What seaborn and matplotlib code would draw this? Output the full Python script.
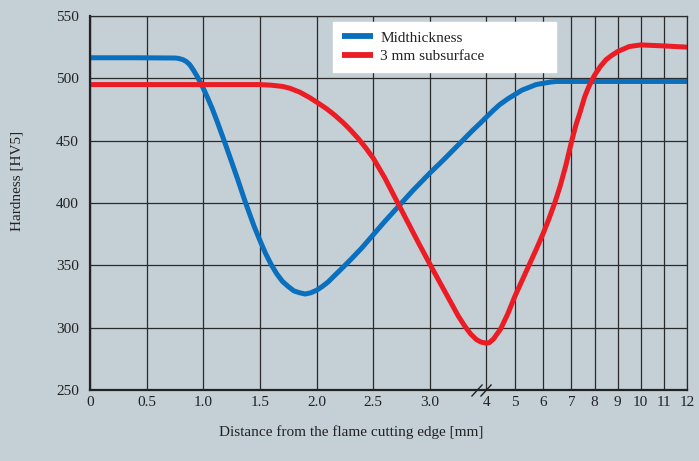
import numpy as np
import pandas as pd
import matplotlib.pyplot as plt
from matplotlib.path import Path
import seaborn as sns

# hardness profiles (distance in mm, hardness in HV5)
mid_mm = [0, 0.4, 0.75, 0.78, 0.82, 0.85, 0.88, 0.91, 0.94, 0.97, 1.0, 1.04, 1.08,
          1.12, 1.16, 1.19, 1.25, 1.3, 1.37, 1.45, 1.5, 1.55, 1.6, 1.65, 1.7, 1.75,
          1.8, 1.85, 1.9, 1.95, 2.0, 2.05, 2.1, 2.15, 2.24, 2.3, 2.4, 2.5, 2.6, 2.71,
          2.85, 3.0, 3.25, 3.5, 3.75, 3.88, 4.0, 4.25, 4.47, 4.75, 5.0, 5.25, 5.53,
          5.75, 6.0, 6.25, 6.47, 7.0, 8, 9, 10, 11, 12]
mid_hv = [516.5, 516.5, 516.3, 516, 515, 513.5, 511, 507, 502.5, 497.5, 492, 484, 475.5,
          466, 456, 448.5, 433, 420, 401, 381, 370, 359.5, 350.5, 343, 337, 333,
          329.5, 328, 327, 328, 330, 333, 336.5, 341, 349, 354.5, 364, 374.5, 385, 396,
          410, 424, 435, 446.5, 458, 463.6, 469, 474.5, 479, 483.5, 487, 490.5, 493,
          495, 496, 497, 497.5, 497.5, 497.5, 497.5, 497.5, 497.5, 497.5]

sub_mm = [0, 1.0, 1.5, 1.6, 1.7, 1.765, 1.85, 1.94, 2.0, 2.09, 2.16, 2.24, 2.3,
          2.37, 2.44, 2.5, 2.6, 2.7, 2.8, 2.9, 3.0, 3.18, 3.35, 3.5, 3.62, 3.72,
          3.82, 3.9, 4.0, 4.1, 4.25, 4.5, 4.75, 5.0, 5.25, 5.5, 5.75, 6.0, 6.2,
          6.41, 6.6, 6.8, 7.0, 7.2, 7.36, 7.57, 7.72, 7.86, 8.0, 8.25, 8.5, 8.75,
          9.0, 9.25, 9.5, 10, 11, 12]
sub_hv = [495, 495, 495, 494.5, 493.5, 492, 489, 484.5, 481, 475.5, 470.5, 464, 458.5,
          451.5, 443.5, 436, 420.5, 403, 385.5, 368, 351, 336, 322, 309.5, 301, 295,
          290.5, 288.5, 287.5, 288, 291, 299, 311, 325, 337.5, 350, 362.5, 375.5, 387,
          400, 413.5, 430, 449, 463, 472, 485, 492, 497.5, 502.5, 509.5, 515, 518.5,
          521.5, 523.5, 525.5, 526.8, 526, 525]

labels = ['Midthickness', '3 mm subsurface']
colors = ['#0a6fbd', '#ec1c24']

tick_mm = [0, 0.5, 1.0, 1.5, 2.0, 2.5, 3.0, 4, 5, 6, 7, 8, 9, 10, 11, 12]
tick_lbl = ['0', '0.5', '1.0', '1.5', '2.0', '2.5', '3.0',
            '4', '5', '6', '7', '8', '9', '10', '11', '12']
y_ticks = [250, 300, 350, 400, 450, 500, 550]
BREAK_AT = 4

# piecewise axis: 0-3 mm wide, 3-4 broken, 4-7 narrower, 7-12 narrowest
seg_mm = [0, 3, 4, 7, 12]
seg_pos = [0, 6, 7, 8.5, 10.54]

def fwd(x):
    return np.interp(x, seg_mm, seg_pos)

def inv(p):
    return np.interp(p, seg_pos, seg_mm)

df = pd.concat([
    pd.DataFrame({'mm': mid_mm, 'hv': mid_hv, 'series': labels[0]}),
    pd.DataFrame({'mm': sub_mm, 'hv': sub_hv, 'series': labels[1]}),
], ignore_index=True)

bg = '#c5cfd6'
ink = '#222222'

sns.set_theme(style='white')
plt.rcParams['font.family'] = ['Liberation Serif', 'DejaVu Serif']

fig = plt.figure(figsize=(6.99, 4.61), dpi=100, facecolor=bg)
ax = fig.add_axes([90 / 699, 1 - 390 / 461, 597 / 699, 374 / 461])
ax.set_facecolor(bg)
ax.set_xscale('function', functions=(fwd, inv))

sns.lineplot(data=df, x='mm', y='hv', hue='series', palette=colors,
             hue_order=labels, sort=False, estimator=None, lw=3.6, ax=ax)
for ln in ax.get_lines():
    ln.set_solid_joinstyle('round')
    ln.set_solid_capstyle('butt')

ax.set_xlim(0, 12)
ax.set_ylim(250, 550)
ax.set_xticks(tick_mm)
ax.set_xticklabels(tick_lbl)
ax.set_yticks(y_ticks)
ax.minorticks_off()
ax.tick_params(length=0, labelsize=11, colors=ink)
ax.tick_params(axis='x', pad=4)
ax.tick_params(axis='y', pad=8)
ax.grid(True, color='#2a2a2a', lw=0.9)
ax.set_axisbelow(True)

for side in ['top', 'right']:
    ax.spines[side].set_color('#2a2a2a')
    ax.spines[side].set_linewidth(0.9)
for side in ['left', 'bottom']:
    ax.spines[side].set_color(ink)
    ax.spines[side].set_linewidth(1.6)

ax.set_xlabel('Distance from the flame cutting edge [mm]', fontsize=11, color=ink)
ax.set_ylabel('Hardness [HV5]', fontsize=11, color=ink)
ax.xaxis.set_label_coords(0.438, -0.095)
ax.yaxis.set_label_coords(-0.112, 0.56)

# axis break mark
slashes = Path([(-15, -6), (-4, 6), (-6, -6), (5, 6)],
               [Path.MOVETO, Path.LINETO, Path.MOVETO, Path.LINETO])
ax.plot([BREAK_AT], [250], marker=slashes, ms=21.6, mew=1.0, mec=ink,
        mfc='none', ls='none', clip_on=False, zorder=5)

leg = ax.legend(loc='upper left', bbox_to_anchor=(0.407, 0.842, 0.374, 0.142),
                mode='expand', borderaxespad=0, frameon=True, fancybox=False,
                facecolor='white', edgecolor='white', framealpha=1,
                fontsize=11, handlelength=2.0, handletextpad=0.5,
                borderpad=0.6, labelspacing=0.3)
for h in leg.get_lines():
    h.set_linewidth(4.2)
for t in leg.get_texts():
    t.set_color(ink)

fig.savefig('out.png', dpi=100, facecolor=bg)
